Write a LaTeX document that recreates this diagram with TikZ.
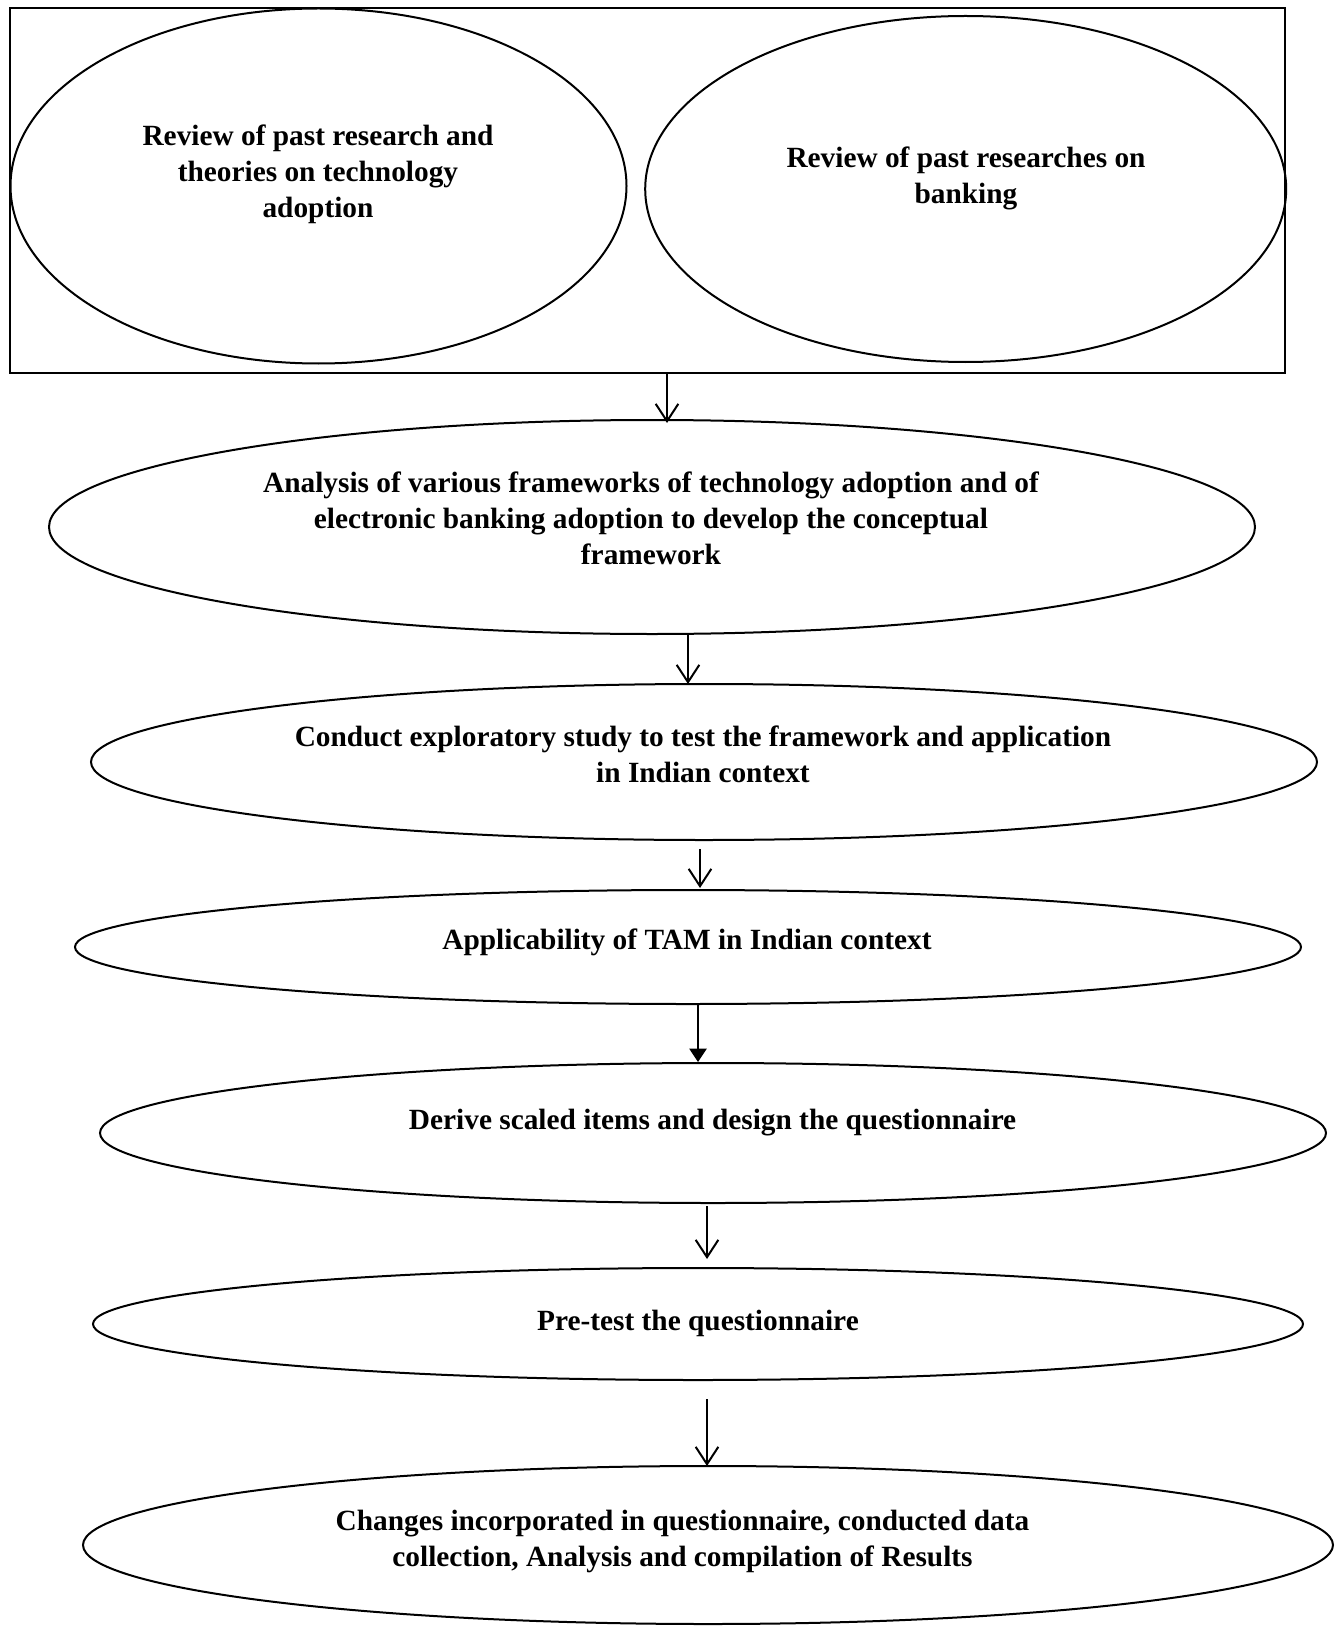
\documentclass[tikz,border=0pt]{standalone}
\usepackage{fontspec}
\setmainfont{Liberation Serif}
\usetikzlibrary{shapes.geometric,arrows.meta,calc}
\begin{document}
\begin{tikzpicture}[x=0.75pt,y=-0.75pt,
  stage/.style={draw,ellipse,line width=1.5pt,inner sep=0pt},
  frame/.style={draw,rectangle,line width=1.5pt,inner sep=0pt},
  lbl/.style={align=center,font=\bfseries\fontsize{22}{27}\selectfont,inner sep=0pt},
  flow/.style={line width=1.5pt,-{Straight Barb[length=13pt,width=17pt]}},
  flowsolid/.style={line width=0.8pt,-{Triangle[length=10pt,width=13pt]}}]
\useasboundingbox (0,0) rectangle (1335,1626);

% literature review box with its two ellipses
\node[frame,minimum width=1274.6*0.75pt,minimum height=365*0.75pt] (box) at (647.7,190.8) {};
\node[stage,minimum width=616*0.75pt,minimum height=355*0.75pt] (r1) at (318.5,186) {};
\node[stage,minimum width=641*0.75pt,minimum height=346*0.75pt] (r2) at (965.7,189) {};
\node[lbl] (t1) at (318,174) {Review of past research and\\theories on technology\\adoption};
\node[lbl] (t2) at (966,178) {Review of past researches on\\banking};

% process stages
\node[stage,minimum width=1206*0.75pt,minimum height=214*0.75pt] (e2) at (652,527) {};
\node[lbl] (t3) at (651,518.7) {Analysis of various frameworks of technology adoption and of\\electronic banking adoption to develop the conceptual\\framework};

\node[stage,minimum width=1226*0.75pt,minimum height=156*0.75pt] (e3) at (704,762) {};
\node[lbl] (t4) at (703,754.6) {Conduct exploratory study to test the framework and application\\in Indian context};

\node[stage,minimum width=1226*0.75pt,minimum height=114*0.75pt] (e4) at (688,947) {};
\node[lbl] (t5) at (687,942) {Applicability of TAM in Indian context};

\node[stage,minimum width=1226*0.75pt,minimum height=140*0.75pt] (e5) at (713,1133) {};
\node[lbl] (t6) at (712.6,1123) {Derive scaled items and design the questionnaire};

\node[stage,minimum width=1210*0.75pt,minimum height=112*0.75pt] (e6) at (698,1324) {};
\node[lbl] (t7) at (698,1323.6) {Pre-test the questionnaire};

\node[stage,minimum width=1250*0.75pt,minimum height=158*0.75pt] (e7) at (708,1545) {};
\node[lbl] (t8) at (682.5,1541.4) {Changes incorporated in questionnaire, conducted data\\collection, Analysis and compilation of Results};

% connector columns
\coordinate (c1) at (667,0);
\coordinate (c2) at (688,0);
\coordinate (c3) at (700,0);
\coordinate (c4) at (698,0);
\coordinate (c5) at (707,0);
\coordinate (c6) at (707,0);

\draw[flow] (box.south -| c1) -- ($(e2.north -| c1)+(0,4)$);
\draw[flow] (e2.south -| c2) -- ($(e3.north -| c2)+(0,1)$);
\draw[flow] ($(e3.south -| c3)+(0,8)$) -- ($(e4.north -| c3)+(0,-1)$);
\draw[flowsolid] (e4.south -| c4) -- (e5.north -| c4);
\draw[flow] ($(e5.south -| c5)+(0,2)$) -- ($(e6.north -| c5)+(0,-8)$);
\draw[flow] ($(e6.south -| c6)+(0,18)$) -- ($(e7.north -| c6)+(0,1)$);
\end{tikzpicture}
\end{document}
